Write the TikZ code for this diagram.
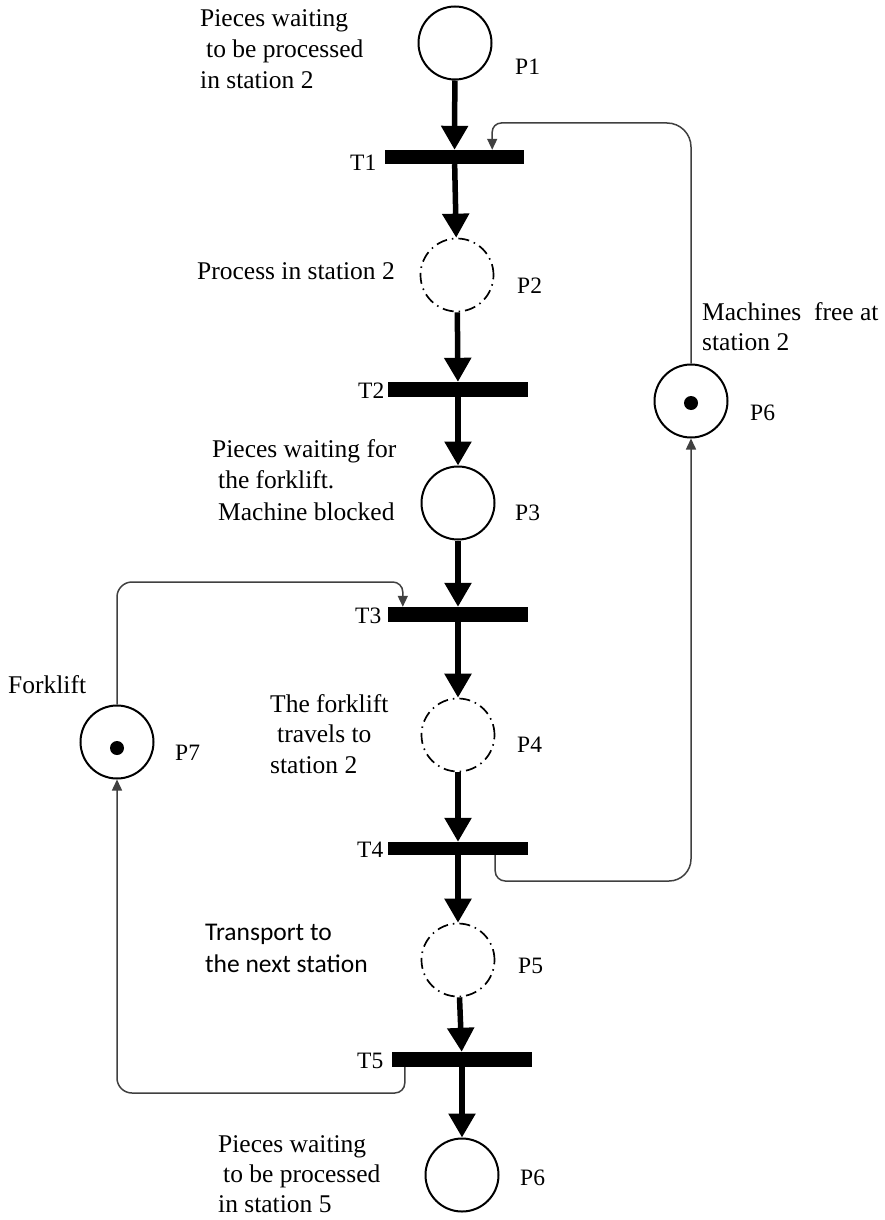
\documentclass[tikz,border=0pt]{standalone}
\usepackage{fontspec}
\setmainfont{Liberation Serif}
\newfontfamily\calibrilike{Carlito}
\usetikzlibrary{arrows.meta}

\begin{document}
\begin{tikzpicture}[x=1pt,y=-1pt,
  place/.style={circle,draw=black,line width=2pt,minimum size=73pt,inner sep=0pt},
  busy/.style={place,dash pattern=on 11pt off 5pt on 1.5pt off 5pt,line width=1.7pt},
  bar/.style={rectangle,fill=black,inner sep=0pt,minimum width=140pt,minimum height=14pt},
  token/.style={circle,fill=black,inner sep=0pt,minimum size=14pt},
  flow/.style={line width=5.5pt,-{Triangle[length=24pt,width=26pt]}},
  feed/.style={draw=black!75,line width=1.5pt,-{Triangle[length=11pt,width=10pt]}},
  note/.style={font=\fontsize{25.5}{31}\selectfont,align=left,anchor=base west,inner sep=0pt},
  lbl/.style={font=\fontsize{23.5}{28}\selectfont,anchor=base west,inner sep=0pt}]

\fill[white] (0,0) rectangle (884,1220);
\useasboundingbox (0,0) rectangle (884,1220);

% places
\node[place] (P1)  at (455,43)   {};
\node[busy]  (P2)  at (457,275)  {};
\node[place] (P3)  at (458,503)  {};
\node[busy]  (P4)  at (458,735)  {};
\node[busy]  (P5)  at (458,960)  {};
\node[place] (P6b) at (462,1175) {};
\node[place] (P6r) at (691,401)  {};
\node[place] (P7)  at (117,742)  {};
\node[token] (k6)  at (691,403)  {};
\node[token] (k7)  at (117,748)  {};

% transitions
\node[bar,minimum width=139pt] (T1) at (454.5,157) {};
\node[bar,minimum height=15pt] (T2) at (458,389.5) {};
\node[bar,minimum height=15pt] (T3) at (458,614.5) {};
\node[bar,minimum height=13pt] (T4) at (458,848.5) {};
\node[bar,minimum height=15pt] (T5) at (462,1059.5) {};

% place and transition labels
\node[lbl] (lP1)  at (515,75)   {P1};
\node[lbl] (lP2)  at (517,293)  {P2};
\node[lbl] (lP3)  at (515,520)  {P3};
\node[lbl] (lP4)  at (517,752)  {P4};
\node[lbl] (lP5)  at (518,973)  {P5};
\node[lbl] (lP6b) at (520,1185) {P6};
\node[lbl] (lP6r) at (750,420)  {P6};
\node[lbl] (lP7)  at (175,760)  {P7};
\node[lbl] (lT1)  at (350,170)  {T1};
\node[lbl] (lT2)  at (358,398)  {T2};
\node[lbl] (lT3)  at (355,623)  {T3};
\node[lbl] (lT4)  at (357,857)  {T4};
\node[lbl] (lT5)  at (357,1068) {T5};

% descriptions (base anchor = baseline of the last line)
\node[note] (d1) at (200,89)  {Pieces waiting\\\hspace*{6pt}to be processed\\in station 2};
\node[note] (d2) at (197,279) {Process in station 2};
\node[note,font=\fontsize{25.5}{31.5}\selectfont] (d3) at (212,520) {Pieces waiting for\\\hspace*{6pt}the forklift.\\\hspace*{6pt}Machine blocked};
\node[note,font=\fontsize{25.5}{30}\selectfont] (d4) at (702,350) {Machines\ \ free at\\station 2};
\node[note] (d5) at (8,693)   {Forklift};
\node[note,font=\fontsize{25.5}{30.5}\selectfont] (d6) at (270,773) {The forklift\\\hspace*{7pt}travels to\\station 2};
\node[note,font=\calibrilike\fontsize{25.5}{32}\selectfont] (d7) at (205,972) {Transport to\\the next station};
\node[note,font=\fontsize{25.5}{30}\selectfont] (d8) at (218,1212) {Pieces waiting\\\hspace*{5pt}to be processed\\in station 5};

% main token flow
\draw[flow] (P1) -- (T1);
\draw[flow] (T1) -- (P2);
\draw[flow] (P2) -- (T2);
\draw[flow] (T2) -- (P3);
\draw[flow] (P3) -- (T3);
\draw[flow] (T3) -- (P4);
\draw[flow] (P4) -- (T4);
\draw[flow] (T4) -- (P5);
\draw[flow] (P5) -- (T5);
\draw[flow] (T5) -- (P6b);

% resource loops
\coordinate (inT1)  at ([xshift=-32pt]T1.north east);
\coordinate (inT3)  at ([xshift=15pt]T3.north west);
\coordinate (outT4) at ([xshift=-33pt]T4.south east);
\coordinate (outT5) at ([xshift=13pt]T5.south west);

\draw[feed] (P6r.north) [rounded corners=24pt] -- (P6r.north |- 0,123)
  [rounded corners=9pt] -- (inT1 |- 0,123) [sharp corners] -- (inT1);
\draw[feed] (P7.north) [rounded corners=15pt] -- (P7.north |- 0,582)
  [rounded corners=10pt] -- (inT3 |- 0,582) [sharp corners] -- (inT3);
\draw[feed] (outT4) [rounded corners=10pt] -- (outT4 |- 0,881)
  [rounded corners=22pt] -- (P6r.south |- 0,881) [sharp corners] -- (P6r.south);
\draw[feed] (outT5) [rounded corners=10pt] -- (outT5 |- 0,1093)
  [rounded corners=15pt] -- (P7.south |- 0,1093) [sharp corners] -- (P7.south);
\end{tikzpicture}
\end{document}
